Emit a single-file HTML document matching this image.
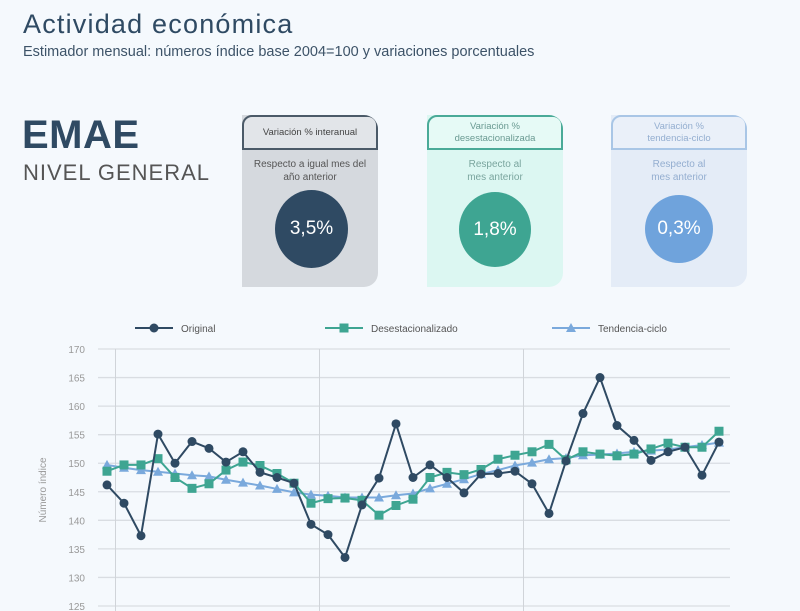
<!DOCTYPE html>
<html><head><meta charset="utf-8"><style>
body{margin:0;width:800px;height:611px;overflow:hidden;background:#f5f9fd;font-family:"Liberation Sans",sans-serif;position:relative}
.abs{position:absolute}
.card{position:absolute;top:115px;width:136px;height:172px;border-radius:0 14px 14px 0;overflow:hidden}
.tab{height:31px;border:2px solid;border-radius:10px 10px 0 0;font-size:9.5px;display:flex;align-items:center;justify-content:center;text-align:center;line-height:12px}
.sub{font-size:10px;text-align:center;margin-top:8px;line-height:13px}
.circ{position:absolute;border-radius:50%;color:#fff;font-size:19px;display:flex;align-items:center;justify-content:center}
</style></head><body>
<div class="abs" style="left:23px;top:9px;font-size:27px;color:#2f4a63;letter-spacing:1.2px">Actividad económica</div>
<div class="abs" style="left:23px;top:44px;font-size:14.5px;color:#3d5368">Estimador mensual: números índice base 2004=100 y variaciones porcentuales</div>
<div class="abs" style="left:22px;top:113px;font-size:40px;font-weight:bold;color:#2f4a63;letter-spacing:0.5px">EMAE</div>
<div class="abs" style="left:23px;top:160px;font-size:22px;color:#555;letter-spacing:1px">NIVEL GENERAL</div>

<div class="card" style="left:242px;background:#d5d9de">
<div class="tab" style="border-color:#4b5a68;background:#e2e5e9;color:#444">Variación % interanual</div>
<div class="sub" style="color:#555">Respecto a igual mes del<br>año anterior</div>
<div class="circ" style="left:33px;top:75px;width:73px;height:78px;background:#2f4a63">3,5%</div></div>
<div class="card" style="left:427px;background:#dcf7f2">
<div class="tab" style="border-color:#4aaa98;background:#e6faf6;color:#6a9a92">Variación %<br>desestacionalizada</div>
<div class="sub" style="color:#7aa59e">Respecto al<br>mes anterior</div>
<div class="circ" style="left:32px;top:77px;width:72px;height:75px;background:#3ea592">1,8%</div></div>
<div class="card" style="left:611px;background:#e4ecf7">
<div class="tab" style="border-color:#a9c6e6;background:#eaf0f9;color:#94aed0">Variación %<br>tendencia-ciclo</div>
<div class="sub" style="color:#94aed0">Respecto al<br>mes anterior</div>
<div class="circ" style="left:34px;top:80px;width:68px;height:68px;background:#6fa3dc">0,3%</div></div>

<svg class="abs" style="left:0;top:0" width="800" height="611" id="chart"></svg>
<script>
const yTicks=[125,130,135,140,145,150,155,160,165,170];
const original=[146.2,143,137.3,155.1,150,153.8,152.6,150.2,152,148.4,147.5,146.5,139.3,137.5,133.5,142.7,147.4,156.9,147.5,149.7,147.5,144.8,148.1,148.2,148.6,146.4,141.2,150.4,158.7,165,156.6,154,150.5,152,152.8,147.9,153.7];
const desest=[148.6,149.7,149.7,150.8,147.5,145.6,146.4,148.8,150.2,149.6,148.2,146.5,143,143.8,143.9,143.5,140.9,142.6,143.7,147.5,148.4,148,148.9,150.7,151.4,152,153.3,150.6,152,151.6,151.3,151.6,152.5,153.5,152.8,152.8,155.6];
const tend=[149.7,149.2,148.8,148.5,148.2,147.9,147.7,147.1,146.6,146.1,145.5,144.9,144.5,144.3,144,144,144,144.4,144.7,145.6,146.4,147.2,148.1,148.8,149.6,150.1,150.7,150.9,151.4,151.5,151.7,152,152.2,152.4,152.8,153.2,153.6];
const sepIdx=[0.5,12.5,24.5];
const legend=[["Original","#2f4a63","circle"],["Desestacionalizado","#3ea592","square"],["Tendencia-ciclo","#7aa9dc","tri"]];
const svg=document.getElementById('chart'),NS='http://www.w3.org/2000/svg';
const X=i=>107+17*i, Y=v=>349+(170-v)*257/45;
function el(t,a,p){const e=document.createElementNS(NS,t);for(const k in a)e.setAttribute(k,a[k]);(p||svg).appendChild(e);return e;}
yTicks.forEach(v=>{
 const l=el('line',{x1:98,x2:730,y1:Y(v),y2:Y(v),stroke:'#d9dde2','stroke-width':1.3});
 
 
 const t=el('text',{x:85,y:Y(v)+4,'text-anchor':'end','font-size':10,fill:'#999'});t.textContent=v;
 
 
});
sepIdx.forEach(i=>{const l=el('line',{x1:X(i),x2:X(i),y1:349,y2:611,stroke:'#d0d4d9','stroke-width':1});
 
 });
const yt=el('text',{x:46,y:490,transform:'rotate(-90 46 490)','text-anchor':'middle','font-size':10,fill:'#999'});yt.textContent='Número índice';


function marker(shape,x,y,c,g){
 if(shape=='circle')return el('circle',{cx:x,cy:y,r:4.5,fill:c},g);
 if(shape=='square')return el('rect',{x:x-4.5,y:y-4.5,width:9,height:9,fill:c},g);
 return el('path',{d:`M${x},${y-5}L${x+5},${y+4}L${x-5},${y+4}Z`,fill:c},g);
}
function series(data,c,shape,name){
 const g=el('g',{});
 
 
 el('polyline',{points:data.map((v,i)=>X(i)+','+Y(v)).join(' '),fill:'none',stroke:c,'stroke-width':2},g);
 data.forEach((v,i)=>{const m=marker(shape,X(i),Y(v),c,g);
  
  });
}
series(tend,'#7aa9dc','tri','series-tendencia');
series(desest,'#3ea592','square','series-desestacionalizado');
series(original,'#2f4a63','circle','series-original');
const lx=[135,325,552];
legend.forEach((d,k)=>{
 const g=el('g',{});
 
 
 el('line',{x1:lx[k],x2:lx[k]+38,y1:328,y2:328,stroke:d[1],'stroke-width':2},g);
 marker(d[2],lx[k]+19,328,d[1],g);
 const t=el('text',{x:lx[k]+46,y:332,'font-size':10,fill:'#555'},g);t.textContent=d[0];
});
</script>
</body></html>
